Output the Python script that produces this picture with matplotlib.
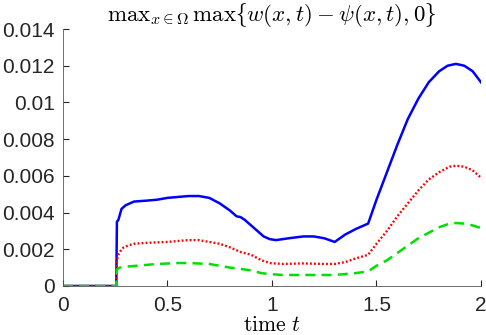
import matplotlib
matplotlib.use("Agg")
import matplotlib.pyplot as plt

# data
t_blue = [0, 0.25, 0.255, 0.258, 0.265, 0.27, 0.28, 0.30, 0.34, 0.40, 0.45, 0.50, 0.55, 0.60, 0.65,
          0.70, 0.75, 0.80, 0.83, 0.85, 0.87, 0.90, 0.93, 0.96, 0.99, 1.02, 1.08, 1.15, 1.20, 1.25,
          1.30, 1.35, 1.40, 1.46, 1.50, 1.55, 1.60, 1.65, 1.70, 1.75, 1.80, 1.84, 1.88, 1.92, 1.96, 2.0]
v_blue = [0, 0, 0, 0.0035, 0.0036, 0.0038, 0.0042, 0.0044, 0.0046, 0.00465, 0.0047, 0.0048, 0.00485, 0.0049, 0.0049,
          0.0048, 0.0045, 0.0041, 0.0038, 0.00375, 0.0036, 0.0033, 0.0030, 0.0027, 0.00255, 0.0025, 0.0026, 0.0027, 0.0027, 0.0026,
          0.0024, 0.0028, 0.0031, 0.0034, 0.0047, 0.0062, 0.0077, 0.0091, 0.0102, 0.0111, 0.0117, 0.0120, 0.0121, 0.0120, 0.0117, 0.0111]

t_red = [0, 0.25, 0.255, 0.258, 0.265, 0.275, 0.29, 0.31, 0.34, 0.40, 0.50, 0.60, 0.65, 0.70, 0.75,
         0.80, 0.85, 0.90, 0.95, 0.99, 1.05, 1.15, 1.25, 1.30, 1.35, 1.40, 1.46, 1.50, 1.55, 1.60,
         1.65, 1.70, 1.75, 1.80, 1.85, 1.88, 1.92, 1.96, 2.0]
v_red = [0, 0, 0, 0.0014, 0.0017, 0.0019, 0.0021, 0.0022, 0.0023, 0.00235, 0.0024, 0.0025, 0.0025, 0.0024, 0.0023,
         0.0021, 0.00185, 0.0017, 0.0014, 0.00125, 0.0012, 0.00123, 0.0012, 0.0012, 0.0013, 0.0015, 0.0017, 0.0023, 0.0030, 0.0038,
         0.0045, 0.0052, 0.0058, 0.0062, 0.0065, 0.00655, 0.0065, 0.0063, 0.0059]

t_green = [0, 0.25, 0.255, 0.258, 0.27, 0.30, 0.35, 0.45, 0.55, 0.60, 0.70, 0.75, 0.80, 0.85,
           0.90, 0.95, 0.99, 1.05, 1.15, 1.25, 1.30, 1.35, 1.40, 1.46, 1.50, 1.55, 1.60, 1.65,
           1.70, 1.75, 1.80, 1.85, 1.88, 1.92, 1.96, 2.0]
v_green = [0, 0, 0, 0.0009, 0.001, 0.00105, 0.0011, 0.0012, 0.00125, 0.00125, 0.0012, 0.0011, 0.001, 0.00093,
           0.00085, 0.0007, 0.00065, 0.0006, 0.0006, 0.0006, 0.0006, 0.00065, 0.0007, 0.0008, 0.0011, 0.0014, 0.0018, 0.0022,
           0.0026, 0.0029, 0.0032, 0.0034, 0.00343, 0.0034, 0.0033, 0.00316]

x_ticks = [0, 0.5, 1, 1.5, 2]
x_labels = ["0", "0.5", "1", "1.5", "2"]
y_ticks = [0, 0.002, 0.004, 0.006, 0.008, 0.01, 0.012, 0.014]
y_labels = ["0", "0.002", "0.004", "0.006", "0.008", "0.01", "0.012", "0.014"]

plt.rcParams['font.family'] = ['Liberation Sans', 'DejaVu Sans']
plt.rcParams['mathtext.fontset'] = 'cm'

fig = plt.figure(figsize=(4.86, 3.35), dpi=100)
ax = fig.add_axes([0.1296, 0.1463, 0.8601, 0.7671])

ax.plot(t_blue, v_blue, color="#0000ff", lw=1.8, ls="-")
ax.plot(t_red, v_red, color="#ff0000", lw=1.7, ls=(0, (0.8, 0.9)))
ax.plot(t_green, v_green, color="#00e000", lw=1.8, ls=(0, (4, 2.5)))

ax.set_xlim(0, 2)
ax.set_ylim(0, 0.014)
ax.set_xticks(x_ticks)
ax.set_xticklabels(x_labels)
ax.set_yticks(y_ticks)
ax.set_yticklabels(y_labels)
ax.tick_params(direction="in", length=4, labelsize=15, colors="#262626")
ax.tick_params(axis="x", pad=7)
ax.tick_params(axis="y", pad=6)
for s in ["top", "right"]:
    ax.spines[s].set_visible(False)
for s in ["left", "bottom"]:
    ax.spines[s].set_color("#555555")
    ax.spines[s].set_linewidth(0.6)

ax.set_title(r"$\mathrm{max}_{x\in\Omega}\,\mathrm{max}\lbrace w(x,t)-\psi(x,t),0\rbrace$", fontsize=16.5, pad=6)
ax.set_xlabel(r"$\mathrm{time}\ t$", fontsize=15.5, labelpad=0)

fig.savefig("out.png", dpi=100)
